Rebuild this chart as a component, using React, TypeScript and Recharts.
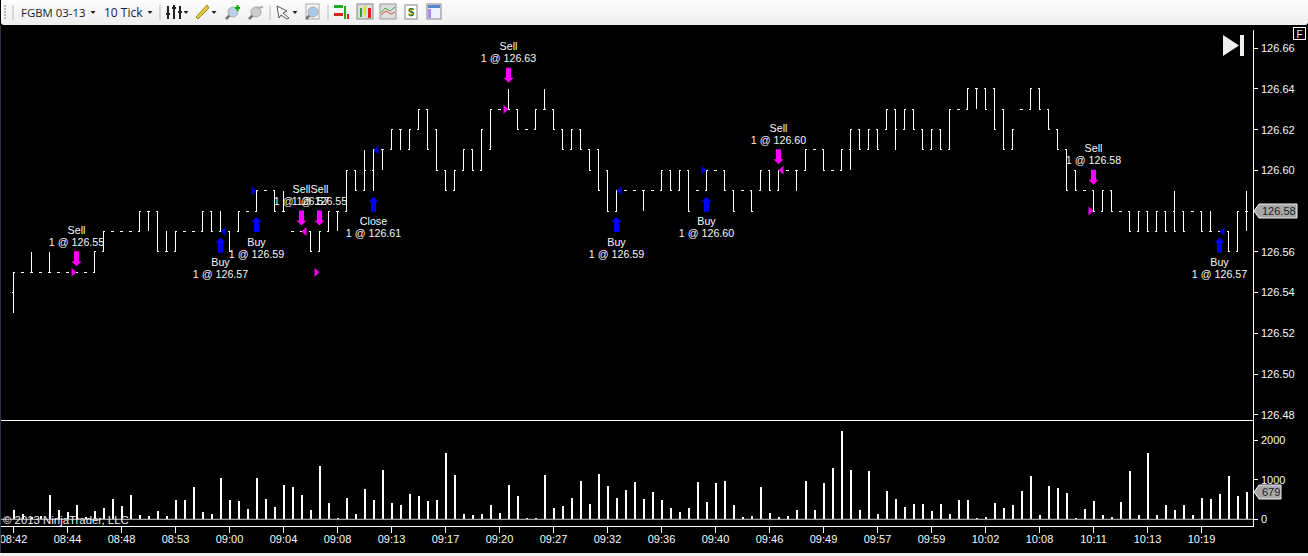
import React from "react";
import { ComposedChart, Bar, Line, XAxis, YAxis, ReferenceLine, ReferenceDot } from "recharts";

// prices in hundredths above 126.00
const highs = [
  55,55,56,55,56,55,55,55,55,56, 57,57,57,57,58,58,58,57,57,57,
  57,58,58,58,57,58,58,59,59,59, 59,57,57,57,57,58,58,60,60,61,
  61,61,62,62,62,63,63,62,60,60, 61,61,62,63,63,64,63,62,63,64,
  63,62,62,62,61,61,60,59,59,59, 59,59,60,60,60,60,59,60,60,60,
  59,59,59,60,60,60,60,60,61,61, 61,60,61,62,62,62,62,63,63,63,
  63,62,62,62,63,63,64,64,64,64, 63,62,63,64,64,63,62,61,60,59,
  59,59,59,58,58,58,58,58,58,59, 58,58,58,58,57,57,58,59,
];
const lows = [
  53,55,55,55,55,55,55,55,55,55, 56,57,57,57,57,57,56,56,56,57,
  57,57,57,57,56,57,58,58,59,58, 58,57,57,56,56,57,57,58,59,59,
  59,60,61,61,61,62,61,60,59,59, 60,60,60,61,63,63,62,62,62,63,
  62,61,61,61,60,59,58,58,59,59, 58,59,59,59,59,58,59,59,60,59,
  58,59,58,59,59,59,60,59,60,61, 60,60,60,60,61,61,61,62,61,62,
  62,61,61,61,61,63,63,63,63,62, 61,61,63,63,63,62,61,59,59,59,
  58,58,58,58,57,57,57,57,57,57, 57,58,57,57,57,56,56,57,
];
const opens = [
  54,55,55,55,55,55,55,55,55,55, 56,57,57,57,57,58,58,56,56,57,
  57,57,58,57,57,57,58,58,59,59, 58,57,57,57,56,57,58,58,60,59,
  60,61,61,62,61,62,63,62,60,59, 60,61,60,61,63,63,63,62,62,63,
  63,62,61,62,61,61,60,58,59,59, 59,59,59,60,59,60,59,59,60,60,
  59,59,59,59,60,59,60,60,60,61, 61,60,60,61,62,61,62,62,63,62,
  63,62,61,62,61,63,63,64,64,64, 63,61,63,63,64,63,62,61,60,59,
  59,58,59,58,58,57,58,57,58,58, 58,58,58,57,57,57,56,58,
];
const closes = [
  55,55,55,55,55,55,55,55,55,56, 57,57,57,57,58,58,56,56,57,57,
  57,58,57,57,56,58,58,59,59,58, 58,57,57,56,57,58,58,60,59,60,
  61,61,62,62,62,63,61,60,59,60, 61,60,62,63,63,63,62,62,63,63,
  62,61,62,61,60,59,58,59,59,59, 59,59,60,59,60,58,59,60,60,59,
  58,59,58,60,59,60,60,60,61,61, 60,60,61,62,61,62,61,63,62,63,
  62,61,62,61,63,63,64,64,63,62, 61,62,63,64,63,62,61,59,59,59,
  58,59,58,58,57,58,57,58,57,57, 57,58,57,57,57,56,58,58,
];
const volumes = [
  236,140,60,90,616,236,186,363,68,211, 287,515,338,616,110,84,211,84,490,490,
  819,186,135,1047,490,464,262,1047,515,312, 869,819,616,236,1350,414,34,540,135,768,
  490,1249,414,363,641,591,464,490,1680,1122, 135,110,135,363,160,869,591,34,34,1122,
  287,338,540,970,388,1148,844,540,743,945, 515,692,490,287,186,287,945,439,920,970,
  363,59,84,819,160,59,84,236,970,236, 920,1300,2237,1249,236,1224,135,717,515,312,
  388,388,211,388,135,490,490,34,59,414, 287,363,717,1097,110,844,793,667,34,262,
  464,110,59,439,1224,110,1680,110,363,236, 363,110,540,515,641,1097,591,679,
];
const timeLabels = ["08:42","08:44","08:48","08:53","09:00","09:04","09:08","09:13","09:17","09:20","09:27","09:32","09:36","09:40","09:46","09:49","09:57","09:59","10:02","10:08","10:11","10:13","10:19"];
const priceTicks = [126.66,126.64,126.62,126.6,126.56,126.54,126.52,126.5,126.48];
const volumeTicks = [0,1000,2000];

const tradeBars = [7,23,27,32,34,40,55,67,77,85,120,134];
const tradeNames = ["Sell","Buy","Buy","Sell","Sell","Close","Sell","Buy","Buy","Sell","Sell","Buy"];
const tradeFills = [55,57,59,57,55,61,63,59,60,60,58,57];
const tradeSides = ["L","R","L","R","L","R","L","R","L","R","L","R"];

const lastPrice = 126.58;
const lastVolume = 679;

const FONT = '"Liberation Sans", Arial, sans-serif';
const px = (v: number) => 126 + v / 100;

const rows = highs.map((h, i) => {
  const t = tradeBars.indexOf(i);
  const name = t >= 0 ? tradeNames[t] : null;
  return {
    i,
    range: [px(lows[i]), px(highs[i])],
    open: px(opens[i]),
    close: px(closes[i]),
    volume: volumes[i],
    name,
    fillLabel: t >= 0 ? `1 @ ${px(tradeFills[t]).toFixed(2)}` : null,
    side: t >= 0 ? tradeSides[t] : null,
    anchor: t >= 0 ? (name === "Sell" ? px(highs[i]) : px(lows[i])) : null,
    fill: t >= 0 ? px(tradeFills[t]) : null,
  };
});

const OhlcShape = (p: any) => {
  const { x, y, width, height, payload } = p;
  const cx = x + width / 2;
  const [lo, hi] = payload.range;
  const span = hi - lo;
  const at = (v: number) => (span > 0 ? y + (height * (hi - v)) / span : y);
  return (
    <g shapeRendering="crispEdges" stroke="#fff" strokeWidth={1}>
      {span > 0 && <line x1={cx} x2={cx} y1={y} y2={y + height} />}
      <line x1={cx - 1.5} x2={cx + 0.5} y1={at(payload.open)} y2={at(payload.open)} />
      <line x1={cx - 0.5} x2={cx + 1.5} y1={at(payload.close)} y2={at(payload.close)} />
    </g>
  );
};

const VolumeShape = (p: any) => {
  const { x, y, width, height } = p;
  const cx = x + width / 2;
  return <rect x={cx - 1.5} y={y} width={2} height={height} fill="#fff" shapeRendering="crispEdges" />;
};

const ArrowDot = (p: any) => {
  const { cx, cy, payload, index } = p;
  if (cy == null || payload.name == null) return <g key={index} />;
  const sell = payload.name === "Sell";
  const color = sell ? "#ff00ff" : "#0000ff";
  const ax = Math.round(cx - 0.5) + 0.5;
  const pts = sell
    ? [[-2.5,-21],[2.5,-21],[2.5,-11],[5,-11],[0,-6],[-5,-11],[-2.5,-11]]
    : [[-2.5,21],[2.5,21],[2.5,11],[5,11],[0,6],[-5,11],[-2.5,11]];
  const line1 = sell ? cy - 42.5 : cy + 30.5;
  const line2 = sell ? cy - 30.5 : cy + 42.5;
  return (
    <g key={index}>
      <polygon points={pts.map(([a, b]) => `${ax + a},${cy + b}`).join(" ")} fill={color} />
      <text x={cx} y={line1} textAnchor="middle" dominantBaseline="central" fontFamily={FONT} fontSize={10.7} fill="#f8f8f8">{payload.name}</text>
      <text x={cx} y={line2} textAnchor="middle" dominantBaseline="central" fontFamily={FONT} fontSize={10.7} fill="#f8f8f8">{payload.fillLabel}</text>
    </g>
  );
};

const FillDot = (p: any) => {
  const { cx, cy, payload, index } = p;
  if (cy == null || payload.name == null) return <g key={index} />;
  const sell = payload.name === "Sell";
  const color = sell ? "#ee00ee" : "#0000e0";
  const d = payload.side === "L" ? -5 : 5;
  return <polygon key={index} points={`${cx + d},${cy - 4.5} ${cx + d},${cy + 4.5} ${cx},${cy}`} fill={color} />;
};

const Tag = (w: number, label: string) => (p: any) => {
  const tip = p.cx + 7.5;
  const cy = Math.round(p.cy);
  return (
    <g>
      <polygon points={`${tip},${cy} ${tip + 5},${cy - 7} ${tip + w},${cy - 7} ${tip + w},${cy + 7} ${tip + 5},${cy + 7}`} fill="#a8a8a8" stroke="#eee" strokeWidth={1} />
      <text x={tip + 8} y={cy} dominantBaseline="central" fontFamily={FONT} fontSize={11} fill="#222">{label}</text>
    </g>
  );
};

const axisTick = { fill: "#f8f8f8", fontSize: 11, fontFamily: FONT };
const crispLine = { stroke: "#ffffff", strokeWidth: 1, shapeRendering: "crispEdges" };

const TimeTick = (p: any) => {
  const { x, y, payload } = p;
  const label = timeLabels[payload.value / 6];
  if (!label) return <g />;
  return (
    <g>
      <line x1={x} x2={x} y1={y - 8} y2={y - 2} stroke="#ffffff" shapeRendering="crispEdges" />
      <text x={x} y={y + 4.5} textAnchor="middle" dominantBaseline="central" fontFamily={FONT} fontSize={11} fill="#f8f8f8">{label}</text>
    </g>
  );
};

const Drop = ({ x, y = 11 }: { x: number; y?: number }) => <polygon points={`${x - 2.5},${y} ${x + 2.5},${y} ${x},${y + 3}`} fill="#222" />;
const Sep = ({ x }: { x: number }) => <line x1={x} x2={x} y1={5} y2={20} stroke="#b8b8b8" />;
const Mag = ({ x, c }: { x: number; c: string }) => (
  <g>
    <line x1={x + 2} y1={19} x2={x + 6} y2={15} stroke="#777" strokeWidth={2.5} />
    <circle cx={x + 9} cy={12} r={5} fill={c} stroke="#aaa" />
  </g>
);

const Toolbar = () => (
  <svg width={1308} height={25} style={{ position: "absolute", left: 0, top: 0 }}>
    <defs>
      <linearGradient id="tb" x1="0" x2="0" y1="0" y2="1">
        <stop offset="0" stopColor="#ffffff" />
        <stop offset="1" stopColor="#eeeeee" />
      </linearGradient>
    </defs>
    <rect x={1} y={-4} width={1307} height={29} rx={3} fill="url(#tb)" />
    {[6, 9, 12, 15, 18].map((y) => <rect key={y} x={4} y={y - 1} width={2} height={2} fill="#bbb" />)}
    <Sep x={13} />
    <text x={21} y={16.5} fontFamily='"Open Sans"' fontSize={11.4} fill="#1a1a2a">FGBM 03-13</text>
    <Drop x={93} />
    <text x={104} y={16.5} fontFamily='"Open Sans"' fontSize={12} fill="#1a1a2a">10 Tick</text>
    <Drop x={150} />
    <Sep x={160} />
    <g stroke="#222" strokeWidth={2}>
      <line x1={168} x2={168} y1={6} y2={19} /><line x1={174} x2={174} y1={5} y2={19} /><line x1={180} x2={180} y1={6} y2={19} />
      <line x1={166} x2={170} y1={14} y2={14} /><line x1={172} x2={176} y1={8} y2={8} /><line x1={178} x2={182} y1={12} y2={12} />
    </g>
    <Drop x={186} />
    <polygon points="196,17 198,19 209,8 207,5" fill="#e8c840" stroke="#a08820" />
    <Drop x={214} />
    <Mag x={224} c="#b8d0e8" />
    <line x1={235} x2={240} y1={8} y2={8} stroke="#0a0" strokeWidth={2} /><line x1={237.5} x2={237.5} y1={5} y2={11} stroke="#0a0" strokeWidth={2} />
    <Mag x={247} c="#cccccc" />
    <line x1={257} x2={263} y1={8} y2={7} stroke="#aaa" strokeWidth={2} />
    <Sep x={270} />
    <polygon points="277,6 287,11 283,13 289,18 287,19 281,15 279,18" fill="#fff" stroke="#555" />
    <Drop x={295} />
    <rect x={306} y={4} width={13} height={15} fill="#f8f8f8" stroke="#aaa" />
    <Mag x={304} c="#a8c8e8" />
    <Sep x={328} />
    <rect x={334} y={5} width={9} height={3} fill="#2a2" /><rect x={334} y={13} width={9} height={3} fill="#d22" />
    <rect x={344} y={6} width={2} height={13} fill="#2a2" /><rect x={347} y={14} width={2} height={5} fill="#d22" />
    <rect x={357} y={4} width={16} height={15} fill="#ddd" stroke="#888" />
    <rect x={360} y={8} width={2} height={9} fill="#2a2" /><rect x={364} y={6} width={2} height={9} fill="#dd2" /><rect x={368} y={8} width={3} height={10} fill="#d22" />
    <rect x={380} y={4} width={16} height={15} fill="#ddd" stroke="#999" />
    <polyline points="381,13 385,8 390,11 395,7" fill="none" stroke="#4a4" /><polyline points="381,15 386,11 391,14 395,12" fill="none" stroke="#d55" />
    <rect x={405} y={5} width={12} height={14} fill="#fff" stroke="#888" />
    <text x={411} y={16} textAnchor="middle" fontFamily={FONT} fontWeight="bold" fontSize={11} fill="#172">$</text>
    <rect x={427} y={4} width={14} height={15} fill="#eef" stroke="#888" />
    <rect x={428} y={5} width={12} height={3} fill="#58c" /><rect x={428} y={9} width={3} height={9} fill="#a8e" />
  </svg>
);

export default function App() {
  return (
    <div style={{ position: "absolute", left: 0, top: 0, width: 1308, height: 556, overflow: "hidden", background: "#000" }}>
      <div style={{ position: "absolute", left: 0, top: 30 }}>
        <ComposedChart width={1308} height={391} data={rows} margin={{ top: 0, right: 0, bottom: 0.5, left: 0 }}>
          <XAxis dataKey="i" height={0} tick={false} tickLine={false} axisLine={false} padding={{ left: 9, right: 2 }} />
          <YAxis
            orientation="right" width={55} domain={[126.4772, 126.6689]} allowDataOverflow ticks={priceTicks}
            tickFormatter={(v: number) => v.toFixed(2)} tick={axisTick} tickSize={5} tickMargin={3}
            tickLine={crispLine} axisLine={crispLine} interval={0}
          />
          <Bar dataKey="range" barSize={1} isAnimationActive={false} shape={OhlcShape} />
          <Line dataKey="anchor" stroke="none" isAnimationActive={false} dot={ArrowDot} activeDot={false} legendType="none" />
          <Line dataKey="fill" stroke="none" isAnimationActive={false} dot={FillDot} activeDot={false} legendType="none" />
          <ReferenceLine y={126.4772} stroke="#fff" ifOverflow="visible" />
          <ReferenceDot x={137} y={lastPrice} ifOverflow="visible" shape={Tag(43, lastPrice.toFixed(2))} />
        </ComposedChart>
      </div>
      <div style={{ position: "absolute", left: 0, top: 421 }}>
        <ComposedChart width={1308} height={132} data={rows} margin={{ top: 0, right: 0, bottom: 0, left: 0 }}>
          <XAxis
            dataKey="i" height={26.5} padding={{ left: 9, right: 2 }} interval={5}
            tick={TimeTick} tickSize={6} tickMargin={2} tickLine={false} axisLine={{ stroke: "#ffffff", strokeWidth: 1 }}
          />
          <YAxis
            orientation="right" width={55} domain={[-182, 2482]} allowDataOverflow ticks={volumeTicks}
            tick={axisTick} tickSize={5} tickMargin={3} tickLine={crispLine} axisLine={crispLine} interval={0}
          />
          <Bar dataKey="volume" barSize={2} isAnimationActive={false} shape={VolumeShape} />
          <ReferenceLine y={0} stroke="#c8c8c8" />
          <ReferenceDot x={137} y={lastVolume} ifOverflow="visible" shape={Tag(27, String(lastVolume))} />
        </ComposedChart>
      </div>
      <Toolbar />
      <svg width={1308} height={556} style={{ position: "absolute", left: 0, top: 0, pointerEvents: "none" }}>
        <polygon points="1223,35 1239,45.5 1223,56" fill="#f0f0f0" />
        <rect x={1240} y={35} width={4} height={21} fill="#f0f0f0" />
        <rect x={1293.5} y={27.5} width={12} height={12} fill="none" stroke="#fff" />
        <text x={1299.5} y={37.5} textAnchor="middle" fontFamily={FONT} fontSize={10} fill="#f4f4f4">F</text>
        <text x={3} y={524} fontFamily={FONT} fontSize={11.4} fill="#eeeeee">© 2013 NinjaTrader, LLC</text>
        <rect x={0} y={25} width={1} height={531} fill="#2a3542" />
        <rect x={0} y={553} width={1308} height={3} fill="#f0f0f0" />
      </svg>
    </div>
  );
}
